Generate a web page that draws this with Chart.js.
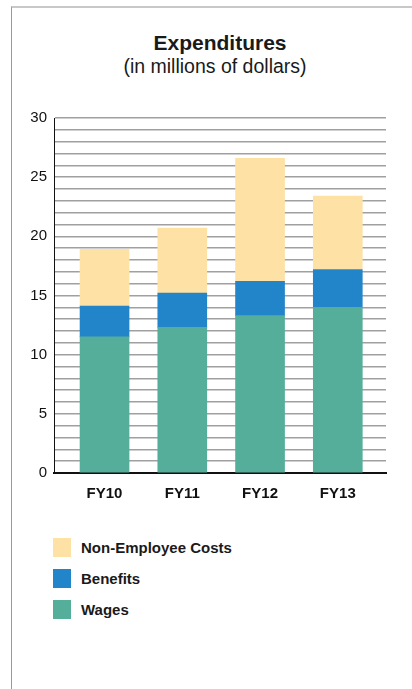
<!DOCTYPE html>
<html>
<head>
<meta charset="utf-8">
<script src="https://cdn.jsdelivr.net/npm/chart.js@4"></script>
<style>
  html, body { margin: 0; padding: 0; background: #fff; }
  body { width: 412px; height: 689px; position: relative; overflow: hidden; font-family: "Liberation Sans", Arial, sans-serif; color: #1a1a1a; }
  #frame { position: absolute; left: 11px; top: 6px; width: 401px; height: 683px; border-left: 1px solid #999; border-top: 2px solid #c8c8c8; }
  #title { position: absolute; top: 31px; left: 120px; width: 200px; text-align: center; font-weight: bold; font-size: 21px; }
  #subtitle { position: absolute; top: 55px; left: 90px; width: 250px; text-align: center; font-size: 19.5px; }
  #wrap { position: absolute; left: 0; top: 0; width: 412px; height: 520px; }
  #legend { position: absolute; left: 53px; top: 532px; }
  .item { display: flex; align-items: center; height: 31px; font-weight: bold; font-size: 15px; }
  .sw { width: 18px; height: 19px; margin-right: 10px; }
</style>
</head>
<body>
<div id="frame"></div>
<div id="title">Expenditures</div>
<div id="subtitle">(in millions of dollars)</div>
<div id="wrap"><canvas id="c"></canvas></div>
<div id="legend"></div>
<script>
const categories = ['FY10', 'FY11', 'FY12', 'FY13'];
const wages = [11.5, 12.3, 13.3, 14.0];
const benefits = [2.6, 2.9, 2.9, 3.2];
const nonEmployee = [4.8, 5.5, 10.4, 6.2];

const series = [
  { label: 'Wages', data: wages, color: '#54ae99' },
  { label: 'Benefits', data: benefits, color: '#2285c9' },
  { label: 'Non-Employee Costs', data: nonEmployee, color: '#fee1a5' }
];

new Chart(document.getElementById('c'), {
  type: 'bar',
  data: {
    datasets: series.map(s => ({
      label: s.label,
      data: s.data.map((v, i) => ({ x: i, y: v })),
      backgroundColor: s.color,
      borderWidth: 0,
      stack: 'all',
      barThickness: 49
    }))
  },
  options: {
    responsive: true,
    maintainAspectRatio: false,
    animation: false,
    layout: { padding: { top: 118, right: 26, left: 0, bottom: 0 } },
    plugins: { legend: { display: false }, tooltip: { enabled: false } },
    scales: {
      x: {
        type: 'linear',
        offset: false,
        min: -0.65,
        max: 3.62,
        afterBuildTicks: s => { s.ticks = categories.map((_, i) => ({ value: i })); },
        afterFit: s => { s.height = 47; },
        grid: { display: false, drawTicks: false },
        border: { color: '#111', width: 2 },
        ticks: {
          callback: v => categories[v],
          color: '#111',
          padding: 12,
          font: { family: 'Liberation Sans', size: 15, weight: 'bold' },
          maxRotation: 0
        }
      },
      y: {
        stacked: true,
        min: 0,
        max: 30,
        afterFit: s => { s.width = 54; },
        grid: { color: '#a0a0a0', lineWidth: 1.5, drawTicks: false },
        border: { color: '#111', width: 1 },
        ticks: {
          stepSize: 1,
          autoSkip: false,
          callback: v => (v % 5 === 0 ? v : ''),
          color: '#111',
          padding: 7,
          font: { family: 'Liberation Sans', size: 15 }
        }
      }
    }
  }
});

const legend = document.getElementById('legend');
series.slice().reverse().forEach(s => {
  const row = document.createElement('div');
  row.className = 'item';
  row.innerHTML = '<span class="sw" style="background:' + s.color + '"></span>' + s.label;
  legend.appendChild(row);
});
</script>
</body>
</html>
